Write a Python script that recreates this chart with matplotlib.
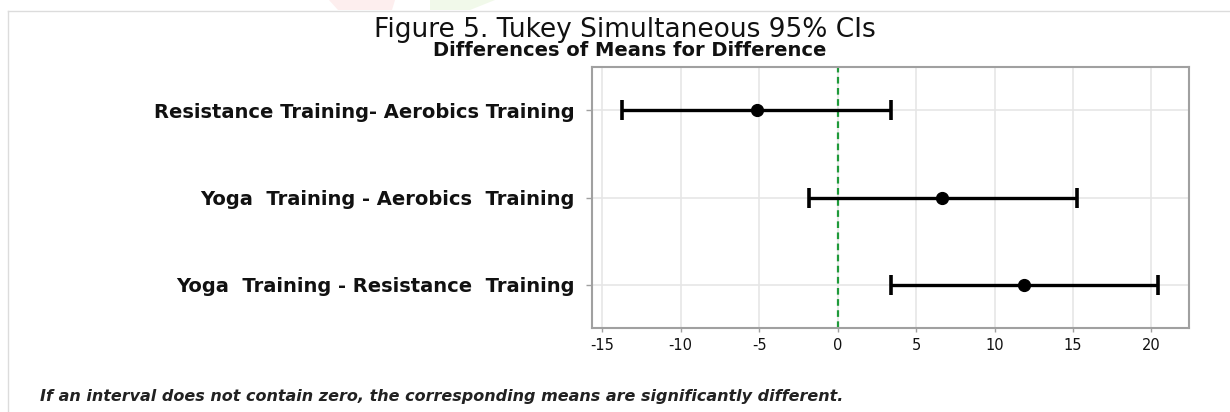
import numpy as np
import matplotlib
matplotlib.use("Agg")
import matplotlib.pyplot as plt
from matplotlib.patches import Polygon
from matplotlib.lines import Line2D

# ---- data ----
comparisons = [
    "Resistance Training- Aerobics Training",
    "Yoga  Training - Aerobics  Training",
    "Yoga  Training - Resistance  Training",
]
diff_means = [-5.17, 6.67, 11.88]
lower_ci = [-13.72, -1.82, 3.42]
upper_ci = [3.37, 15.24, 20.43]
x_ticks = [-15, -10, -5, 0, 5, 10, 15, 20]

title = "Figure 5. Tukey Simultaneous 95% CIs"
subtitle = "Differences of Means for Difference"
footnote = "If an interval does not contain zero, the corresponding means are significantly different."

W, H = 1230, 412
fig = plt.figure(figsize=(W / 100, H / 100), dpi=100)
fig.patch.set_facecolor("white")

# faint watermark fragments at top
fig.patches.append(Polygon([(329 / W, 1), (395 / W, 1), (392 / W, 1 - 10 / H), (338 / W, 1 - 10 / H)],
                           closed=True, transform=fig.transFigure, facecolor="#fdeeee", edgecolor="none"))
fig.patches.append(Polygon([(430 / W, 1), (495 / W, 1), (470 / W, 1 - 10 / H), (430 / W, 1 - 10 / H)],
                           closed=True, transform=fig.transFigure, facecolor="#f1f9ea", edgecolor="none"))

# light frame lines
fig.add_artist(Line2D([8 / W, 1], [1 - 11 / H, 1 - 11 / H], transform=fig.transFigure, color="#dcdcdc", lw=1))
fig.add_artist(Line2D([8 / W, 8 / W], [0, 1 - 11 / H], transform=fig.transFigure, color="#dcdcdc", lw=1))

left, right = 591.6 / W, 1189 / W
top, bottom = 1 - 66.7 / H, 1 - 328.3 / H
ax = fig.add_axes([left, bottom, right - left, top - bottom])

means = np.array(diff_means)
lo = np.array(lower_ci)
hi = np.array(upper_ci)
ypos = np.arange(len(comparisons))[::-1] + 1

ax.set_xlim(-15.68, 22.39)
ax.set_ylim(0.5, len(comparisons) + 0.5)

ax.set_xticks(x_ticks)
ax.set_xticklabels([f"{t}" for t in x_ticks])
ax.set_yticks(ypos)
ax.set_yticklabels(comparisons)

ax.grid(True, color="#e6e6e6", lw=1.2, zorder=0)
ax.set_axisbelow(True)

ax.axvline(0, color="#1f9a3a", ls=(0, (3, 2)), lw=1.6, zorder=2)

ax.errorbar(means, ypos, xerr=[means - lo, hi - means], fmt="o", color="black",
            ms=8.5, capsize=7, capthick=2.6, elinewidth=2.4, zorder=3)

for s in ax.spines.values():
    s.set_color("#a0a0a0")
    s.set_linewidth(1.5)

ax.tick_params(axis="x", length=3, width=1, color="#a0a0a0", labelsize=10.5, pad=4, labelcolor="#111111")
ax.tick_params(axis="y", length=4, width=1, color="#a0a0a0", labelsize=14, pad=8, labelcolor="#111111")
for lab in ax.get_yticklabels():
    lab.set_fontweight("bold")

fig.text(625 / W, 1 - 37 / H, title, ha="center", va="baseline", fontsize=19, color="#111111")
fig.text(630 / W, 1 - 56 / H, subtitle, ha="center", va="baseline", fontsize=14,
         fontweight="bold", color="#111111")
fig.text(40 / W, 1 - 401 / H, footnote, ha="left", va="baseline", fontsize=11.5,
         fontweight="bold", fontstyle="italic", color="#222222")

fig.savefig("out.png", dpi=100, facecolor="white")
